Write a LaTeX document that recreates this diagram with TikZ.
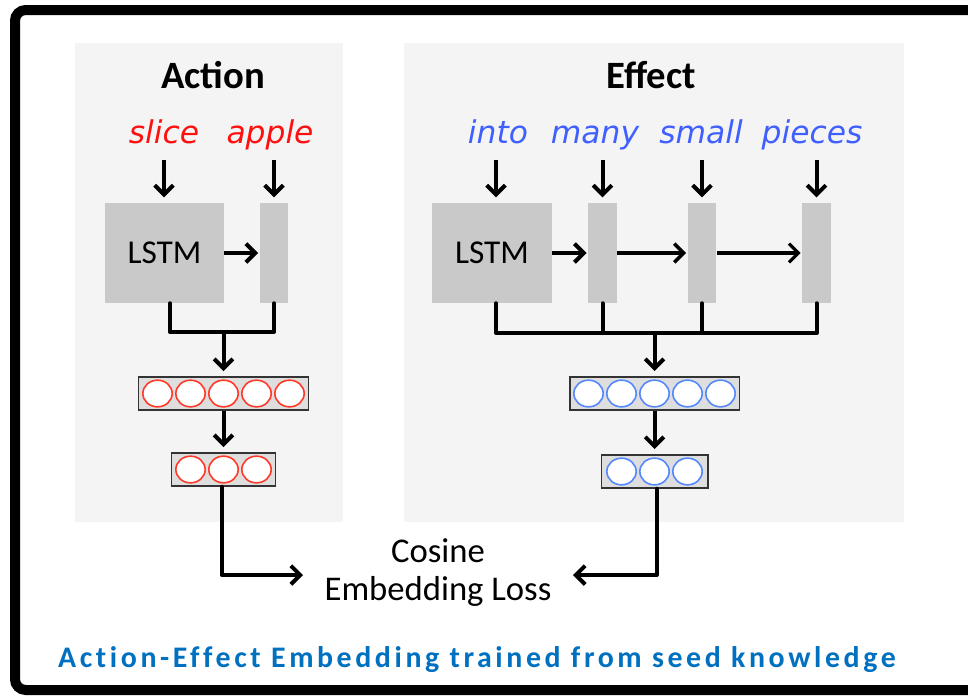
\documentclass[tikz,border=0pt]{standalone}
\usepackage{fontspec}
\setmainfont{Carlito}
\newfontfamily\wordfont{DejaVu Sans}
\newfontfamily\capfont[LetterSpace=12,Ligatures=CommonOff]{Carlito}
\usetikzlibrary{arrows.meta,calc,shapes.geometric}
\definecolor{panelgray}{HTML}{F4F4F4}
\definecolor{boxgray}{HTML}{C9C9C9}
\definecolor{vecfill}{HTML}{DEDEDE}
\definecolor{redtxt}{HTML}{FF1010}
\definecolor{bluetxt}{HTML}{3F5FFF}
\definecolor{redc}{HTML}{FF3A2A}
\definecolor{bluec}{HTML}{5588FF}
\definecolor{capblue}{HTML}{0070C0}
\begin{document}
\begin{tikzpicture}[x=0.75pt,y=-0.75pt,
  panel/.style={fill=panelgray,draw=none},
  title/.style={font=\bfseries\fontsize{29}{32}\selectfont},
  wordred/.style={font=\wordfont\itshape\fontsize{23.5}{26}\selectfont,text=redtxt,inner sep=1pt,anchor=base},
  wordblue/.style={font=\wordfont\itshape\fontsize{23.5}{26}\selectfont,text=bluetxt,inner sep=1pt,anchor=base},
  lstmbox/.style={fill=boxgray,draw=none,minimum width=89.5pt,minimum height=75pt,inner sep=0pt,font=\fontsize{25}{28}\selectfont},
  barbox/.style={fill=boxgray,draw=none,minimum width=21.5pt,minimum height=75pt,inner sep=0pt},
  vecbox/.style={fill=vecfill,draw=black!80,line width=1pt,minimum height=24.75pt,inner sep=0pt},
  redcirc/.style={ellipse,fill=white,draw=redc,line width=1.2pt,minimum width=22pt,minimum height=20pt,inner sep=0pt},
  bluecirc/.style={ellipse,fill=white,draw=bluec,line width=1.2pt,minimum width=22pt,minimum height=20pt,inner sep=0pt},
  arr/.style={line width=3pt,-{Straight Barb[length=7pt,width=14pt]}},
  conn/.style={line width=3pt,line cap=round,line join=round},
]
\useasboundingbox (0,0) rectangle (968,696);
\fill[white] (0,0) rectangle (968,696);
% frame
\draw[line width=7.5pt,rounded corners=8pt] (15,10) rectangle (1000,690);
% panels
\fill[panel] (75,43) rectangle (343,522);
\fill[panel] (404,43) rectangle (904,522);
% titles
\node[title] (tA) at (213,75) {Action};
\node[title] (tE) at (651,75) {Effect};
% words
\node[wordred] (w1) at (164,143) {slice};
\node[wordred] (w2) at (270,143) {apple};
\node[wordblue] (e1) at (498,143) {into};
\node[wordblue] (e2) at (595,143) {many};
\node[wordblue] (e3) at (701,143) {small};
\node[wordblue] (e4) at (812,143) {pieces};
% boxes
\node[lstmbox] (lA) at (164.5,253) {LSTM};
\node[barbox] (bA) at (274,253) {};
\node[lstmbox] (lE) at (492,253) {LSTM};
\node[barbox] (b1) at (602.5,253) {};
\node[barbox] (b2) at (702,253) {};
\node[barbox] (b3) at (816.5,253) {};
% word arrows
\coordinate (wy) at (0,160);
\draw[arr] (w1 |- wy) -- ([yshift=4pt]w1 |- lA.north);
\draw[arr] (bA |- wy) -- ([yshift=4pt]bA.north);
\draw[arr] ([xshift=3pt]lE.north |- wy) -- ([xshift=3pt,yshift=4pt]lE.north);
\draw[arr] (b1 |- wy) -- ([yshift=4pt]b1.north);
\draw[arr] (b2 |- wy) -- ([yshift=4pt]b2.north);
\draw[arr] (b3 |- wy) -- ([yshift=4pt]b3.north);
% horizontal arrows
\draw[arr] (lA.east) -- ([xshift=-1pt]bA.west);
\draw[arr] (lE.east) -- ([xshift=-1pt]b1.west);
\draw[arr,line width=2.6pt] (b1.east) -- ([xshift=-1pt]b2.west);
\draw[arr,line width=2.3pt] (b2.east) -- ([xshift=-1pt]b3.west);
% vectors
\node[vecbox,minimum width=127.5pt] (vA) at (223.5,393.5) {};
\foreach \i/\xx in {1/157.5,2/190.5,3/223.5,4/256.5,5/289.5}
  \node[redcirc] (ra\i) at (\xx,393.5) {};
\node[vecbox,minimum width=78pt] (sA) at (223.5,469.5) {};
\foreach \i/\xx in {1/190.5,2/223.5,3/256.5}
  \node[redcirc] (rs\i) at (\xx,469.5) {};
\node[vecbox,minimum width=127pt] (vE) at (654.5,393.5) {};
\foreach \i/\xx in {1/588.5,2/621.5,3/654.5,4/687.5,5/720.5}
  \node[bluecirc] (ba\i) at (\xx,393.5) {};
\node[vecbox,minimum width=80pt] (sE) at (654.5,471.5) {};
\foreach \i/\xx in {1/621.5,2/654.5,3/687.5}
  \node[bluecirc] (bs\i) at (\xx,471.5) {};
% junctions action
\coordinate (jA) at (223.5,332);
\draw[conn] ([xshift=4pt]lA.south) -- ([xshift=4pt]lA.south |- jA) -- (bA.south |- jA) -- (bA.south);
\draw[arr] (jA) -- ([yshift=4pt]vA.north);
\draw[arr] (vA.south) -- ([yshift=4pt]sA.north);
% junctions effect
\coordinate (jE) at (654.5,333);
\draw[conn] ([xshift=3pt]lE.south) -- ([xshift=3pt]lE.south |- jE) -- (b3.south |- jE) -- (b3.south);
\draw[conn] (b1.south) -- (b1.south |- jE);
\draw[conn] (b2.south) -- (b2.south |- jE);
\draw[arr] (jE) -- ([yshift=4pt]vE.north);
\draw[arr] (vE.south) -- ([yshift=4pt]sE.north);
% loss
\node[align=center,font=\fontsize{26}{28.5}\selectfont] (loss) at (438,573) {Cosine\\Embedding Loss};
\coordinate (lL) at (303,575);
\coordinate (lR) at (573,575);
\draw[conn] ([xshift=-1.5pt]sA.south) -- ([xshift=-1.5pt]sA.south |- lL);
\draw[arr] ([xshift=-1.5pt]sA.south |- lL) -- (lL);
\draw[conn] ([xshift=1.5pt]sE.south) -- ([xshift=1.5pt]sE.south |- lR);
\draw[arr] ([xshift=1.5pt]sE.south |- lR) -- (lR);
% caption
\node[font=\capfont\bfseries\fontsize{22.4}{25}\selectfont,text=capblue] (cap) at (477,660) {Action-Effect Embedding trained from seed knowledge};
\end{tikzpicture}
\end{document}
